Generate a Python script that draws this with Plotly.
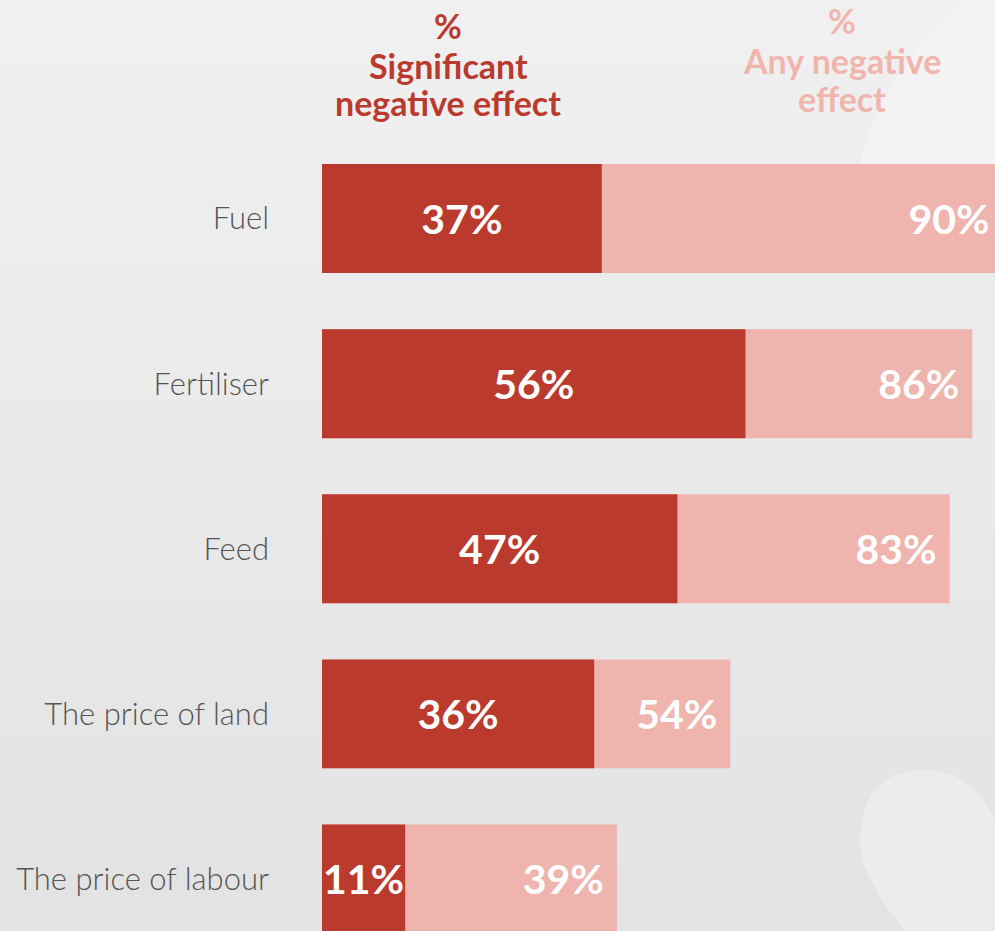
import plotly.graph_objects as go

categories = ["Fuel", "Fertiliser", "Feed", "The price of land", "The price of labour"]
significant = [37, 56, 47, 36, 11]
any_negative = [90, 86, 83, 54, 39]
header_sig = ["%", "Significant", "negative effect"]
header_any = ["%", "Any negative", "effect"]

DARK = "#bb3a2e"
LIGHT = "#eeb4ad"
HEAD_LIGHT = "#f0b5ad"
W, H = 995, 931
L, T = 322, 136
PAD = "\u00a0"

fig = go.Figure()
fig.add_trace(go.Bar(
    y=categories, x=any_negative, orientation="h", width=0.66,
    marker=dict(color=LIGHT, line=dict(width=0)),
    text=[f"{v}%{PAD}" for v in any_negative], textposition="inside",
    insidetextanchor="end", constraintext="none", textangle=0,
    textfont=dict(family="Lato", size=41, color="white", weight="bold"),
    hoverinfo="skip", name="Any negative effect",
))
fig.add_trace(go.Bar(
    y=categories, x=significant, orientation="h", width=0.66,
    marker=dict(color=DARK, line=dict(width=0)),
    text=[f"{v}%" for v in significant], textposition="inside",
    insidetextanchor="middle", constraintext="none", textangle=0,
    textfont=dict(family="Lato", size=41, color="white", weight="bold"),
    hoverinfo="skip", name="Significant negative effect",
))

def px_x(p):
    return (p - L) / (W - L)

def px_y(p):
    return (H - p) / (H - T)

shapes = []
# subtle vertical gradient background
top_c, bot_c = 240, 227
nb = 14
for i in range(nb):
    c = round(top_c + (bot_c - top_c) * i / (nb - 1))
    shapes.append(dict(type="rect", xref="paper", yref="paper",
                       x0=px_x(0), x1=px_x(W), y0=px_y(H * (i + 1) / nb + 1), y1=px_y(H * i / nb),
                       fillcolor=f"rgb({c},{c},{c})", line=dict(width=0), layer="below"))
# decorative lighter curve top right
path = (f"M {px_x(965)},{px_y(0)} C {px_x(905)},{px_y(55)} {px_x(872)},{px_y(110)} {px_x(860)},{px_y(165)} "
        f"L {px_x(W)},{px_y(165)} L {px_x(W)},{px_y(0)} Z")
shapes.append(dict(type="path", xref="paper", yref="paper", path=path,
                   fillcolor="rgb(243,243,243)", line=dict(width=0), layer="below"))
# decorative capsule bottom right
cap = (f"M {px_x(860)},{px_y(840)} C {px_x(860)},{px_y(780)} {px_x(900)},{px_y(770)} {px_x(923)},{px_y(770)} "
       f"C {px_x(960)},{px_y(770)} {px_x(980)},{px_y(790)} {px_x(995)},{px_y(820)} "
       f"L {px_x(995)},{px_y(931)} L {px_x(905)},{px_y(931)} C {px_x(880)},{px_y(900)} {px_x(860)},{px_y(870)} {px_x(860)},{px_y(840)} Z")
shapes.append(dict(type="path", xref="paper", yref="paper", path=cap,
                   fillcolor="rgb(236,236,236)", line=dict(width=0), layer="below"))

annotations = []
for txt, yc in zip(header_sig, [25, 65, 102]):
    annotations.append(dict(xref="paper", yref="paper", x=px_x(448), y=px_y(yc),
                            xanchor="center", yanchor="middle", text=txt, showarrow=False,
                            font=dict(family="Lato", size=34, color=DARK, weight="bold")))
for txt, yc in zip(header_any, [20, 60, 98]):
    annotations.append(dict(xref="paper", yref="paper", x=px_x(842), y=px_y(yc),
                            xanchor="center", yanchor="middle", text=txt, showarrow=False,
                            font=dict(family="Lato", size=34, color=HEAD_LIGHT, weight="bold")))

fig.update_layout(
    width=W, height=H,
    margin=dict(l=L, r=0, t=T, b=0),
    paper_bgcolor="#eaeaea", plot_bgcolor="rgba(0,0,0,0)",
    barmode="overlay", showlegend=False,
    shapes=shapes, annotations=annotations,
    xaxis=dict(range=[0, 89.0], visible=False, fixedrange=True),
    yaxis=dict(type="category", categoryorder="array", categoryarray=categories,
               range=[4.315, -0.5], showgrid=False, zeroline=False, showline=False,
               ticks="", ticklabelstandoff=52, fixedrange=True,
               tickfont=dict(family="Lato", size=31, color="#555555", weight=300)),
)

fig.write_html("out.html", config={"displayModeBar": False},
               post_script="document.body.style.margin='0';document.body.style.overflow='hidden';")
